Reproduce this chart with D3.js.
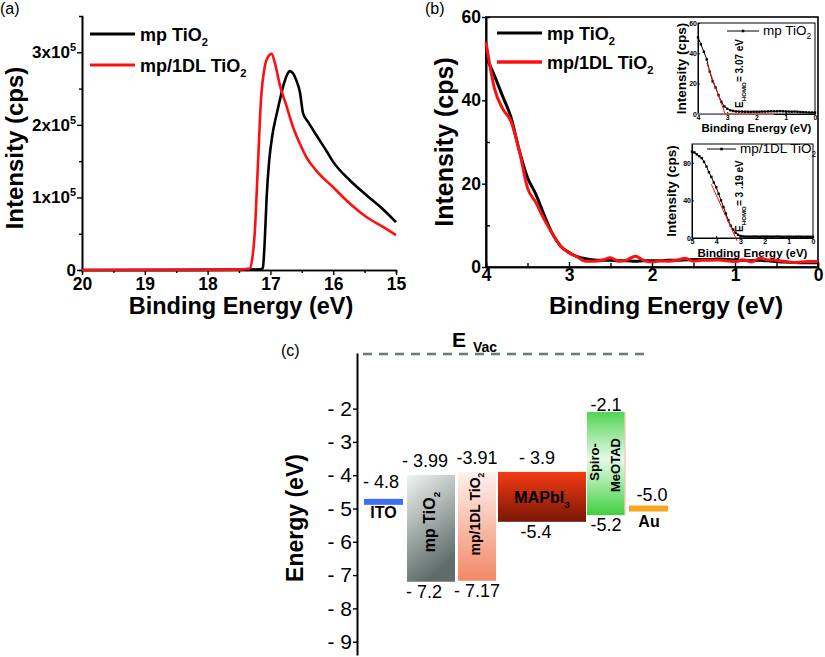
<!DOCTYPE html>
<html>
<head>
<meta charset="utf-8">
<script src="https://cdn.jsdelivr.net/npm/d3@7"></script>
<style>
body { margin: 0; background: #fff; }
svg { font-family: "Liberation Sans", Arial, sans-serif; }
</style>
</head>
<body>
<div id="chart"></div>
<script>
// ---------- data ----------
// (a) secondary electron cut-off, intensity in units of 1e5 cps
const aEnergyMp = [20, 17.5, 17.15, 17.12, 17.09, 17.06, 17.02, 16.97, 16.9, 16.85, 16.8, 16.74, 16.69, 16.64, 16.59, 16.53, 16.48, 16.4, 16.27, 16.1, 16.0, 15.74, 15.47, 15.2, 15.0];
const aIntMp    = [0, 0.005, 0.01, 0.03, 0.4, 1.0, 1.5, 1.85, 2.15, 2.34, 2.52, 2.68, 2.74, 2.71, 2.62, 2.45, 2.16, 2.04, 1.86, 1.63, 1.49, 1.24, 1.03, 0.83, 0.66];
const aEnergyDl = [20, 17.5, 17.33, 17.29, 17.25, 17.2, 17.15, 17.09, 17.03, 16.98, 16.93, 16.85, 16.74, 16.64, 16.53, 16.43, 16.27, 16.0, 15.74, 15.47, 15.2, 15.0];
const aIntDl    = [0, 0.005, 0.02, 0.15, 0.5, 1.42, 2.34, 2.8, 2.95, 2.98, 2.86, 2.55, 2.25, 1.97, 1.74, 1.56, 1.37, 1.14, 0.92, 0.73, 0.59, 0.48];
const aXTicks = [20, 19, 18, 17, 16, 15];
const aYTicks = [0, 1, 2, 3];

// (b) valence band region, cps
const bEnergy = [4.0, 3.9, 3.8, 3.7, 3.6, 3.5, 3.4, 3.3, 3.2, 3.1, 3.0, 2.9, 2.8, 2.7, 2.6, 2.5, 2.4, 2.3, 2.2, 2.1, 2.0,
                 1.9, 1.8, 1.7, 1.6, 1.5, 1.4, 1.3, 1.2, 1.1, 1.0, 0.9, 0.8, 0.7, 0.6, 0.5, 0.4, 0.3, 0.2, 0.1, 0.0];
const bIntMp = [50.5, 46, 41, 36, 28, 21.5, 17.5, 12.5, 8, 5, 3.5, 2.5, 2, 1.7, 1.6, 1.6, 1.5, 1.5, 1.4, 1.5, 1.5,
                1.5, 1.6, 1.6, 1.7, 1.8, 1.8, 1.8, 1.9, 1.8, 1.7, 1.6, 1.5, 1.6, 1.5, 1.3, 1.2, 1.1, 1.0, 1.0, 1.0];
const bIntDl = [54, 43, 38, 35, 28, 19, 15.5, 11.5, 8, 5, 3.4, 2.4, 1.4, 1.4, 1.6, 2.2, 1.4, 1.7, 2.6, 1.6, 1.2,
                1.5, 1.4, 1.6, 2.1, 1.4, 1.6, 1.6, 1.7, 1.5, 1.3, 1.7, 1.2, 2.1, 1.7, 1.6, 1.3, 1.1, 1.2, 1.3, 1.3];
const bXTicks = [4, 3, 2, 1, 0];
const bYTicks = [0, 20, 40, 60];

// inset 2 (mp/1DL TiO2, wider range)
const i2Energy = [5.0, 4.9, 4.8, 4.7, 4.6, 4.5, 4.4, 4.3, 4.2, 4.1, 4.0, 3.9, 3.8, 3.7, 3.6, 3.5, 3.4, 3.3, 3.2, 3.1,
                  3.0, 2.9, 2.8, 2.7, 2.6, 2.5, 2.4, 2.3, 2.2, 2.1, 2.0, 1.9, 1.8, 1.7, 1.6, 1.5, 1.4, 1.3, 1.2, 1.1,
                  1.0, 0.9, 0.8, 0.7, 0.6, 0.5, 0.4, 0.3, 0.2, 0.1, 0.0];
const i2Int = [92, 91, 89, 87, 85, 81, 76, 70, 65, 59, 54, 47, 40, 33, 26, 19, 13, 9, 5.5, 3.5,
               2.2, 1.7, 1.5, 1.5, 1.4, 1.5, 1.6, 1.5, 1.4, 1.5, 1.6, 1.5, 1.5, 1.4, 1.5, 1.6, 1.5, 1.4, 1.3, 1.4,
               1.5, 1.4, 1.3, 1.4, 1.5, 1.4, 1.3, 1.3, 1.4, 1.3, 1.3];
// linear fits to the onset
const fit1E = [3.7, 3.07], fit1I = [33.6, 0];
const fit2E = [4.2, 3.14], fit2I = [57, -3];

// (c) energy level diagram (eV)
const layers    = ["ITO", "mp TiO2", "mp/1DL TiO2", "MAPbI3", "Spiro-MeOTAD", "Au"];
const levelTop  = [-4.8, -3.99, -3.91, -3.9, -2.1, -5.0];
const levelBot  = [null, -7.2, -7.17, -5.4, -5.2, null];
const topLabels = ["- 4.8", "- 3.99", "-3.91", "- 3.9", "-2.1", "-5.0"];
const botLabels = [null, "- 7.2", "- 7.17", "-5.4", "-5.2", null];
const cTicks = [-2, -3, -4, -5, -6, -7, -8, -9];

// ---------- layout ----------
const layerX0 = [364, 407, 458, 498, 587, 629];
const layerX1 = [403, 455, 496, 586, 625, 668];
const topLabelX = [381, 425, 477, 537, 606, 652];
const topLabelDy = [-14, -8, -8, -8, -1, -7];
const botLabelX = [null, 424, 477, 536, 606, null];

const svg = d3.select("#chart").append("svg")
    .attr("width", 825)
    .attr("height", 657);

const intFmt = d => String(d);

// text with sub/superscript parts: [["text"], ["2", "sub"]]
function rich(parent, x, y, parts, size, weight, anchor, rotate) {
    const t = parent.append("text")
        .attr("x", x).attr("y", y)
        .attr("font-size", size)
        .attr("font-weight", weight)
        .attr("text-anchor", anchor || "start");
    if (rotate) t.attr("transform", `rotate(-90 ${x} ${y})`);
    let off = 0;
    parts.forEach(p => {
        const shift = p[1] === "sub" ? size * 0.3 : p[1] === "sup" ? -size * 0.42 : 0;
        const s = t.append("tspan").attr("dy", shift - off).text(p[0]);
        if (p[1]) s.attr("font-size", size * 0.62);
        off = shift;
    });
    return t;
}

function styleAxis(g, size) {
    g.select(".domain").attr("stroke", "#000").attr("stroke-width", 1.6);
    g.selectAll(".tick line").attr("stroke", "#000").attr("stroke-width", 1.4);
    g.selectAll(".tick text").attr("font-size", size).attr("font-weight", "bold")
        .attr("fill", "#000").attr("font-family", "Liberation Sans, Arial, sans-serif");
}

// ================= panel (a) =================
const xA = d3.scaleLinear().domain([20, 15]).range([82, 396]);
const yA = d3.scaleLinear().domain([0, 3.5]).range([270, 16]);
const gA = svg.append("g");

gA.append("text").attr("x", 0).attr("y", 14).attr("font-size", 16).text("(a)");

// minor ticks
gA.append("g").attr("transform", "translate(0,270)")
    .call(d3.axisBottom(xA).tickValues([19.5, 18.5, 17.5, 16.5, 15.5]).tickSize(3).tickFormat(""))
    .call(g => styleAxis(g, 0));
gA.append("g").attr("transform", "translate(82,0)")
    .call(d3.axisLeft(yA).tickValues([0.5, 1.5, 2.5]).tickSize(3).tickFormat(""))
    .call(g => styleAxis(g, 0));

gA.append("g").attr("transform", "translate(0,270)")
    .call(d3.axisBottom(xA).tickValues(aXTicks).tickSize(5).tickPadding(3).tickSizeOuter(0).tickFormat(intFmt))
    .call(g => styleAxis(g, 17.5));

const yAxisA = gA.append("g").attr("transform", "translate(82,0)")
    .call(d3.axisLeft(yA).tickValues(aYTicks).tickSize(5).tickPadding(1).tickSizeOuter(0))
    .call(g => styleAxis(g, 17));
yAxisA.selectAll(".tick text").each(function(d) {
    const t = d3.select(this).text("");
    if (d === 0) { t.append("tspan").text("0"); return; }
    t.append("tspan").text(d + "x10");
    t.append("tspan").attr("dy", -7).attr("font-size", 11).text("5");
});

const lineA = d3.line().curve(d3.curveMonotoneX);
gA.append("path")
    .attr("d", lineA(aEnergyMp.map((e, i) => [xA(e), yA(aIntMp[i])])))
    .attr("fill", "none").attr("stroke", "#000").attr("stroke-width", 2.6);
gA.append("path")
    .attr("d", lineA(aEnergyDl.map((e, i) => [xA(e), yA(aIntDl[i])])))
    .attr("fill", "none").attr("stroke", "#ff1010").attr("stroke-width", 2.6);

// legend (a)
gA.append("line").attr("x1", 90).attr("x2", 135).attr("y1", 34).attr("y2", 34)
    .attr("stroke", "#000").attr("stroke-width", 3);
rich(gA, 140, 41, [["mp TiO"], ["2", "sub"]], 18, "bold");
gA.append("line").attr("x1", 90).attr("x2", 135).attr("y1", 65).attr("y2", 65)
    .attr("stroke", "#ff1010").attr("stroke-width", 3);
rich(gA, 140, 72, [["mp/1DL TiO"], ["2", "sub"]], 18, "bold");

gA.append("text").attr("x", 23).attr("y", 148).attr("font-size", 24).attr("font-weight", "bold")
    .attr("text-anchor", "middle").attr("transform", "rotate(-90 23 148)").text("Intensity (cps)");
gA.append("text").attr("x", 241).attr("y", 314).attr("font-size", 23.5).attr("font-weight", "bold")
    .attr("text-anchor", "middle").text("Binding Energy (eV)");

// ================= panel (b) =================
const xB = d3.scaleLinear().domain([4, 0]).range([486, 818]);
const yB = d3.scaleLinear().domain([0, 60]).range([267, 17]);
const gB = svg.append("g");

gB.append("text").attr("x", 425).attr("y", 14).attr("font-size", 16).text("(b)");

gB.append("rect").attr("x", 486).attr("y", 17).attr("width", 332).attr("height", 250)
    .attr("fill", "none").attr("stroke", "#000").attr("stroke-width", 1.6);

gB.append("g").attr("transform", "translate(0,267)")
    .call(d3.axisBottom(xB).tickValues([3.5, 2.5, 1.5, 0.5]).tickSize(-4).tickFormat(""))
    .call(g => styleAxis(g, 0));
gB.append("g").attr("transform", "translate(486,0)")
    .call(d3.axisLeft(yB).tickValues([10, 30, 50]).tickSize(-4).tickFormat(""))
    .call(g => styleAxis(g, 0));
gB.append("g").attr("transform", "translate(0,267)")
    .call(d3.axisBottom(xB).tickValues(bXTicks).tickSize(-5).tickPadding(2).tickSizeOuter(0).tickFormat(intFmt))
    .call(g => styleAxis(g, 17.5));
gB.append("g").attr("transform", "translate(486,0)")
    .call(d3.axisLeft(yB).tickValues(bYTicks).tickSize(4).tickPadding(1).tickSizeOuter(0).tickFormat(intFmt))
    .call(g => styleAxis(g, 17.5));

const lineB = d3.line().curve(d3.curveMonotoneX);
gB.append("path")
    .attr("d", lineB(bEnergy.map((e, i) => [xB(e), yB(bIntMp[i])])))
    .attr("fill", "none").attr("stroke", "#000").attr("stroke-width", 3);
gB.append("path")
    .attr("d", lineB(bEnergy.map((e, i) => [xB(e), yB(bIntDl[i])])))
    .attr("fill", "none").attr("stroke", "#ff1010").attr("stroke-width", 3);

gB.append("line").attr("x1", 497).attr("x2", 542).attr("y1", 33).attr("y2", 33)
    .attr("stroke", "#000").attr("stroke-width", 3);
rich(gB, 547, 40, [["mp TiO"], ["2", "sub"]], 18, "bold");
gB.append("line").attr("x1", 497).attr("x2", 542).attr("y1", 62).attr("y2", 62)
    .attr("stroke", "#ff1010").attr("stroke-width", 3.5);
rich(gB, 547, 69, [["mp/1DL TiO"], ["2", "sub"]], 18, "bold");

gB.append("text").attr("x", 453).attr("y", 142).attr("font-size", 25).attr("font-weight", "bold")
    .attr("text-anchor", "middle").attr("transform", "rotate(-90 453 142)").text("Intensity (cps)");
gB.append("text").attr("x", 666).attr("y", 314).attr("font-size", 24.5).attr("font-weight", "bold")
    .attr("text-anchor", "middle").text("Binding Energy (eV)");

// ---- insets ----
function inset(box, xDom, yDom, xt, yt, energy, inten, fitE, fitI, legend, homo, baseEnd) {
    const g = svg.append("g");
    const x = d3.scaleLinear().domain(xDom).range([box.x0, box.x1]);
    const y = d3.scaleLinear().domain(yDom).range([box.y1, box.y0]);
    g.append("rect").attr("x", box.x0).attr("y", box.y0)
        .attr("width", box.x1 - box.x0).attr("height", box.y1 - box.y0)
        .attr("fill", "#fff").attr("stroke", "#000").attr("stroke-width", 1);
    const ax = g.append("g").attr("transform", `translate(0,${box.y1})`)
        .call(d3.axisBottom(x).tickValues(xt).tickSize(-2).tickPadding(1).tickSizeOuter(0).tickFormat(intFmt));
    const ay = g.append("g").attr("transform", `translate(${box.x0},0)`)
        .call(d3.axisLeft(y).tickValues(yt).tickSize(-2).tickPadding(1).tickSizeOuter(0).tickFormat(intFmt));
    [ax, ay].forEach(a => {
        a.select(".domain").attr("stroke", "#000").attr("stroke-width", 1);
        a.selectAll(".tick line").attr("stroke", "#000");
        a.selectAll(".tick text").attr("font-size", 7).attr("font-weight", "bold").attr("fill", "#000")
            .attr("font-family", "Liberation Sans, Arial, sans-serif");
    });
    if (baseEnd !== null) {
        g.append("line").attr("x1", x(xDom[0])).attr("x2", x(baseEnd))
            .attr("y1", y(0)).attr("y2", y(0)).attr("stroke", "#999").attr("stroke-width", 1.5);
        g.append("line").attr("x1", x(fitE[1])).attr("x2", x(baseEnd))
            .attr("y1", y(0)).attr("y2", y(0)).attr("stroke", "#e33").attr("stroke-width", 0.8);
    }
    g.append("path")
        .attr("d", d3.line()(energy.map((e, i) => [x(e), y(inten[i])])))
        .attr("fill", "none").attr("stroke", "#000").attr("stroke-width", 1);
    g.selectAll("rect.pt").data(energy).enter().append("rect").attr("class", "pt")
        .attr("x", (d) => x(d) - 1.2).attr("y", (d, i) => y(inten[i]) - 1.2)
        .attr("width", 2.4).attr("height", 2.4).attr("fill", "#000");
    g.append("line").attr("x1", x(fitE[0])).attr("x2", x(fitE[1]))
        .attr("y1", y(fitI[0])).attr("y2", y(fitI[1])).attr("stroke", "#ff1010").attr("stroke-width", 1);
    // legend
    g.append("line").attr("x1", legend.x0).attr("x2", legend.x1).attr("y1", legend.y).attr("y2", legend.y)
        .attr("stroke", "#000").attr("stroke-width", 1);
    g.append("rect").attr("x", (legend.x0 + legend.x1) / 2 - 1.3).attr("y", legend.y - 1.3)
        .attr("width", 2.6).attr("height", 2.6).attr("fill", "#000");
    rich(g, legend.x1 + 4, legend.y + 4, [[legend.text], ["2", "sub"]], 13.5, "normal");
    // E_HOMO label
    rich(g, homo.x, homo.y, [["E"], ["HOMO", "sub"], [homo.text]], 10, "bold", "start", true);
    g.append("text").attr("x", box.ylx).attr("y", (box.y0 + box.y1) / 2).attr("font-size", 13.5)
        .attr("font-weight", "bold").attr("text-anchor", "middle")
        .attr("transform", `rotate(-90 ${box.ylx} ${(box.y0 + box.y1) / 2})`).text("Intensity (cps)");
    g.append("text").attr("x", (box.x0 + box.x1) / 2).attr("y", box.xly).attr("font-size", 11.5)
        .attr("font-weight", "bold").attr("text-anchor", "middle").text("Binding Energy (eV)");
}

inset({ x0: 698, x1: 815, y0: 23, y1: 114, ylx: 686, xly: 132 }, [4, 0], [0, 60],
    [4, 3, 2, 1, 0], [0, 20, 40, 60], bEnergy, bIntMp, fit1E, fit1I,
    { x0: 727, x1: 759, y: 31, text: "mp TiO" }, { x: 743, y: 108, text: "= 3.07 eV" }, 1.4);

inset({ x0: 692, x1: 813, y0: 144, y1: 238, ylx: 676, xly: 257 }, [5, 0], [0, 100],
    [5, 4, 3, 2, 1, 0], [0, 40, 80], i2Energy, i2Int, fit2E, fit2I,
    { x0: 707, x1: 736, y: 149, text: "mp/1DL TiO" }, { x: 743, y: 232, text: "= 3 .19 eV" }, null);

// ================= panel (c) =================
const yC = d3.scaleLinear().domain([-9.4, -0.33]).range([655, 353]);
const gC = svg.append("g");
const defs = svg.append("defs");

function grad(id, stops, x2, y2) {
    const lg = defs.append("linearGradient").attr("id", id)
        .attr("x1", 0).attr("y1", 0).attr("x2", x2).attr("y2", y2);
    stops.forEach(s => lg.append("stop").attr("offset", s[0]).attr("stop-color", s[1]));
}
grad("gTi", [[0, "#f2f4f3"], [1, "#5f6d6a"]], 0.35, 1);
grad("gDl", [[0, "#fdf1ed"], [1, "#f28866"]], 0, 1);
grad("gMa", [[0, "#f43c12"], [1, "#781607"]], 0, 1);
grad("gSp", [[0, "#52d452"], [0.45, "#e6f9e6"], [0.6, "#bdf0bd"], [1, "#3fd03f"]], 0, 1);
const fills = ["#3d6ff0", "url(#gTi)", "url(#gDl)", "url(#gMa)", "url(#gSp)", "#f5a51e"];

gC.append("text").attr("x", 281).attr("y", 356).attr("font-size", 16).text("(c)");

gC.append("line").attr("x1", 363).attr("x2", 647).attr("y1", 354).attr("y2", 354)
    .attr("stroke", "#6c7a77").attr("stroke-width", 2.6).attr("stroke-dasharray", "9,7");
gC.append("text").attr("x", 452).attr("y", 347).attr("font-size", 21).attr("font-weight", "bold").text("E");
gC.append("text").attr("x", 473).attr("y", 352).attr("font-size", 14).attr("font-weight", "bold").text("Vac");

const yAxisC = gC.append("g").attr("transform", "translate(357,0)")
    .call(d3.axisLeft(yC).tickValues(cTicks).tickSize(4).tickPadding(1).tickSizeOuter(0)
        .tickFormat(d => "- " + Math.abs(d)));
yAxisC.select(".domain").attr("stroke", "#000").attr("stroke-width", 2);
yAxisC.selectAll(".tick line").attr("stroke", "#000").attr("stroke-width", 1.4);
yAxisC.selectAll(".tick text").attr("font-size", 21).attr("fill", "#000")
    .attr("font-family", "Liberation Sans, Arial, sans-serif");

gC.append("text").attr("x", 303).attr("y", 518).attr("font-size", 23).attr("font-weight", "bold")
    .attr("text-anchor", "middle").attr("transform", "rotate(-90 303 518)").text("Energy (eV)");

layers.forEach((name, i) => {
    if (levelBot[i] === null) {
        gC.append("rect").attr("x", layerX0[i]).attr("width", layerX1[i] - layerX0[i])
            .attr("y", yC(levelTop[i]) - 3).attr("height", 6).attr("fill", fills[i]);
    } else {
        gC.append("rect").attr("x", layerX0[i]).attr("width", layerX1[i] - layerX0[i])
            .attr("y", yC(levelTop[i])).attr("height", yC(levelBot[i]) - yC(levelTop[i]))
            .attr("fill", fills[i]);
        gC.append("text").attr("x", botLabelX[i]).attr("y", yC(levelBot[i]) + 16)
            .attr("font-size", 18).attr("text-anchor", "middle").text(botLabels[i]);
    }
    gC.append("text").attr("x", topLabelX[i]).attr("y", yC(levelTop[i]) + topLabelDy[i])
        .attr("font-size", 18).attr("text-anchor", "middle").text(topLabels[i]);
});

// faint edge on spiro bar
gC.append("line").attr("x1", layerX1[4]).attr("x2", layerX1[4])
    .attr("y1", yC(levelTop[4])).attr("y2", yC(levelBot[4])).attr("stroke", "#f6c9b8").attr("stroke-width", 1.5);

// layer names
gC.append("text").attr("x", 383.5).attr("y", 518).attr("font-size", 16).attr("font-weight", "bold")
    .attr("text-anchor", "middle").text("ITO");
gC.append("text").attr("x", 649).attr("y", 527).attr("font-size", 16).attr("font-weight", "bold")
    .attr("text-anchor", "middle").text("Au");
rich(gC, 435, 522, [["mp TiO"], ["2", "sub"]], 16, "bold", "middle", true);
rich(gC, 480, 514, [["mp/1DL TiO"], ["2", "sub"]], 14, "bold", "middle", true);
rich(gC, 542, 503, [["MAPbI"], ["3", "sub"]], 16, "bold", "middle");
gC.append("text").attr("x", 599).attr("y", 462).attr("font-size", 13).attr("font-weight", "bold")
    .attr("text-anchor", "middle").attr("transform", "rotate(-90 599 462)").text("Spiro-");
gC.append("text").attr("x", 620).attr("y", 465).attr("font-size", 13).attr("font-weight", "bold")
    .attr("text-anchor", "middle").attr("transform", "rotate(-90 620 465)").text("MeOTAD");
</script>
</body>
</html>
